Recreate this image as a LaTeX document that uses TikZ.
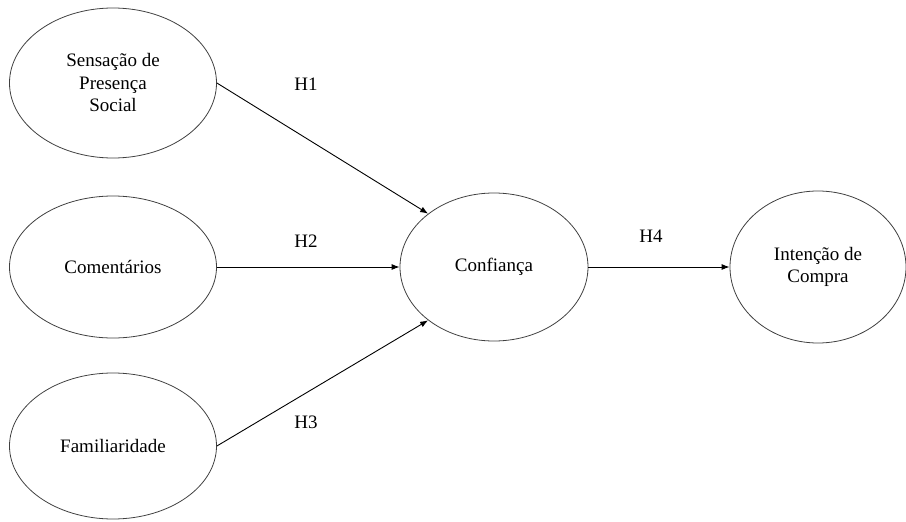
\documentclass[tikz,border=0pt]{standalone}
\usepackage{fontspec}
\setmainfont{Liberation Serif}
\usetikzlibrary{shapes.geometric,arrows.meta}
\begin{document}
\begin{tikzpicture}[x=1pt,y=-1pt,font=\fontsize{19}{22.5}\selectfont,
        construct/.style={ellipse,draw=black!75,line width=0.8pt,
        minimum width=207pt,minimum height=146pt,align=center,inner sep=0pt},
        hyp/.style={-{Latex[length=8pt,width=6pt]},line width=0.9pt}]
        \useasboundingbox (0,0) rectangle (906,522);
        % constructs
        \node[construct, minimum height=150pt] (presenca) at (113,83) {Sensação de\\Presença\\Social};
        \node[construct, minimum height=142pt] (comentarios) at (113,267) {Comentários};
        \node[construct] (familiaridade) at (113,446) {Familiaridade};
        \node[construct, minimum width=188pt, minimum height=148pt] (confianca) at (494,267) {Confiança};
        \node[construct, minimum width=176pt, minimum height=152pt] (intencao) at (818,267) {Intenção de\\Compra};
        % hypotheses
        \draw[hyp] (presenca.east) -- (confianca.141);
        \draw[hyp] (comentarios.east) -- (confianca.west);
        \draw[hyp] (familiaridade.east) -- (confianca.219);
        \draw[hyp] (confianca.east) -- (intencao.west);
        \node (h1) at (306,84) {H1};
        \node (h2) at (306,241) {H2};
        \node (h3) at (306,422) {H3};
        \node (h4) at (651,236) {H4};
\end{tikzpicture}
\end{document}
